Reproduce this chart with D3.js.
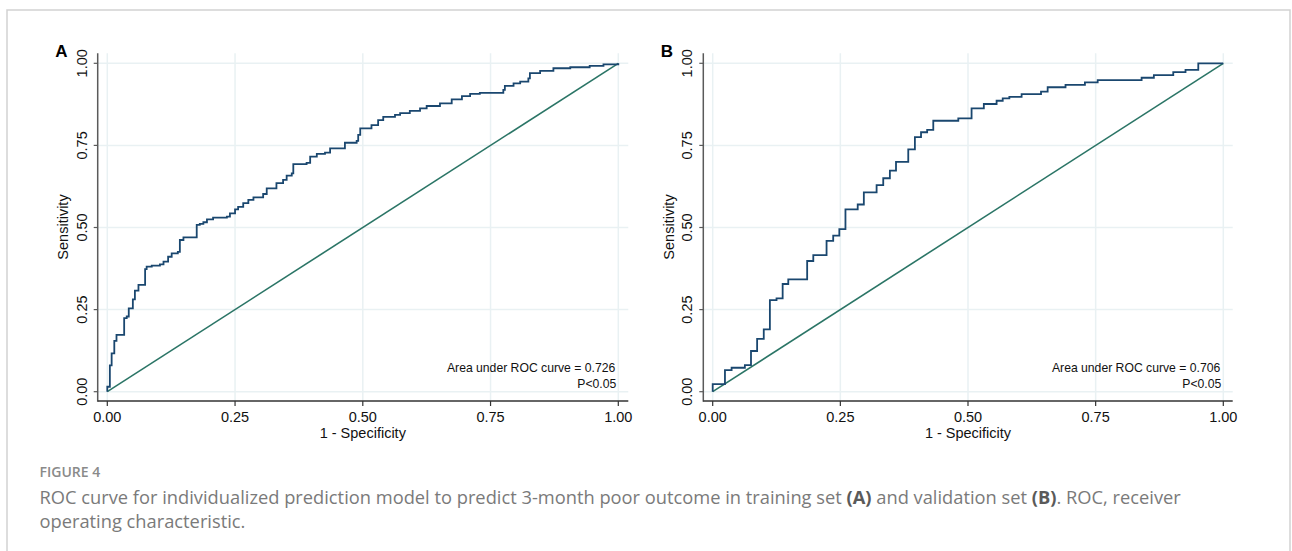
<!DOCTYPE html>
<html>
<head>
<meta charset="utf-8">
<script src="https://cdn.jsdelivr.net/npm/d3@7"></script>
<style>
  body { margin: 0; background: #fff; }
  svg { display: block; }
</style>
</head>
<body>
<div id="chart"></div>
<script>
// training set ROC points (1 - specificity, sensitivity)
const fprA = [0, 0, 0.005, 0.0085, 0.0137, 0.018, 0.033, 0.038, 0.042, 0.050, 0.054, 0.061, 0.074, 0.077, 0.087, 0.103, 0.110, 0.119, 0.126, 0.138, 0.142, 0.149, 0.175, 0.181, 0.188, 0.195, 0.207, 0.234, 0.240, 0.250, 0.256, 0.266, 0.276, 0.286, 0.305, 0.312, 0.331, 0.344, 0.351, 0.361, 0.364, 0.390, 0.397, 0.410, 0.426, 0.436, 0.465, 0.488, 0.491, 0.495, 0.517, 0.530, 0.540, 0.563, 0.573, 0.592, 0.612, 0.625, 0.651, 0.674, 0.694, 0.710, 0.729, 0.775, 0.778, 0.795, 0.808, 0.824, 0.827, 0.847, 0.873, 0.906, 0.944, 0.971, 1.0];
const tprA = [0, 0.015, 0.080, 0.117, 0.155, 0.173, 0.224, 0.229, 0.254, 0.281, 0.308, 0.325, 0.373, 0.381, 0.384, 0.388, 0.396, 0.411, 0.421, 0.426, 0.462, 0.470, 0.508, 0.511, 0.516, 0.525, 0.530, 0.533, 0.543, 0.555, 0.563, 0.574, 0.584, 0.592, 0.602, 0.619, 0.635, 0.645, 0.658, 0.665, 0.693, 0.697, 0.716, 0.724, 0.728, 0.741, 0.758, 0.764, 0.782, 0.802, 0.812, 0.827, 0.837, 0.843, 0.848, 0.855, 0.863, 0.870, 0.878, 0.890, 0.900, 0.907, 0.910, 0.919, 0.931, 0.939, 0.944, 0.954, 0.970, 0.977, 0.985, 0.988, 0.992, 0.997, 1.0];

// validation set
const fprB = [0, 0, 0.024, 0.037, 0.063, 0.075, 0.087, 0.100, 0.112, 0.125, 0.137, 0.148, 0.185, 0.197, 0.223, 0.236, 0.248, 0.260, 0.284, 0.296, 0.321, 0.334, 0.347, 0.359, 0.383, 0.396, 0.408, 0.420, 0.432, 0.481, 0.507, 0.531, 0.556, 0.568, 0.581, 0.605, 0.643, 0.656, 0.691, 0.729, 0.754, 0.840, 0.864, 0.902, 0.926, 0.951, 1.0];
const tprB = [0, 0.023, 0.066, 0.073, 0.081, 0.124, 0.161, 0.190, 0.279, 0.284, 0.328, 0.342, 0.398, 0.416, 0.459, 0.475, 0.495, 0.555, 0.570, 0.607, 0.629, 0.650, 0.673, 0.700, 0.738, 0.775, 0.790, 0.797, 0.825, 0.832, 0.863, 0.876, 0.886, 0.893, 0.898, 0.906, 0.914, 0.927, 0.934, 0.942, 0.949, 0.956, 0.964, 0.973, 0.980, 1.0, 1.0];

const TICKS = [0, 0.25, 0.5, 0.75, 1];
const PANELS = ["A", "B"];
const AUC = ["0.726", "0.706"];

const W = 1292, H = 551;
const navy = "#1a476f", teal = "#2b7566", grid = "#e9f1f3", axisCol = "#5a5a5a";

const svg = d3.select("#chart").append("svg")
  .attr("width", W)
  .attr("height", H);

// outer frame
svg.append("path")
  .attr("d", "M7,560 L7,10 L1290,10 L1290,560")
  .attr("fill", "none")
  .attr("stroke", "#d2d2d2")
  .attr("stroke-width", 1.5);

var y = d3.scaleLinear().domain([0, 1]).range([391.7, 63.3]);

var panelX = [[107.3, 618.3], [712.7, 1223.3]];
var axisLeftX = [97.7, 703.3];
var axisRight = [628.3, 1232.7];
var data = [
  fprA.map((d, i) => [d, tprA[i]]),
  fprB.map((d, i) => [d, tprB[i]])
];

PANELS.forEach(function (p, k) {
  var x = d3.scaleLinear().domain([0, 1]).range(panelX[k]);
  var g = svg.append("g");
  var x0 = axisLeftX[k], yBot = 401, yTop = 53.3;

  // gridlines
  g.selectAll("line.hg").data(TICKS).enter().append("line")
    .attr("x1", x0).attr("x2", axisRight[k])
    .attr("y1", d => y(d)).attr("y2", d => y(d))
    .attr("stroke", grid).attr("stroke-width", 1.5);
  g.selectAll("line.vg").data(TICKS).enter().append("line")
    .attr("x1", d => x(d)).attr("x2", d => x(d))
    .attr("y1", yTop).attr("y2", yBot)
    .attr("stroke", grid).attr("stroke-width", 1.5);

  // axes
  g.append("line").attr("x1", x0).attr("x2", x0).attr("y1", yTop).attr("y2", yBot + 0.75)
    .attr("stroke", axisCol).attr("stroke-width", 1.5);
  g.append("line").attr("x1", x0).attr("x2", axisRight[k]).attr("y1", yBot).attr("y2", yBot)
    .attr("stroke", "#333").attr("stroke-width", 1.5);

  g.selectAll("line.yt").data(TICKS).enter().append("line")
    .attr("x1", x0 - 4).attr("x2", x0)
    .attr("y1", d => y(d)).attr("y2", d => y(d))
    .attr("stroke", axisCol).attr("stroke-width", 1.2);
  g.selectAll("line.xt").data(TICKS).enter().append("line")
    .attr("x1", d => x(d)).attr("x2", d => x(d))
    .attr("y1", yBot).attr("y2", yBot + 5)
    .attr("stroke", "#333").attr("stroke-width", 1.2);

  g.selectAll("text.yl").data(TICKS).enter().append("text")
    .attr("transform", d => "translate(" + (x0 - 11) + "," + y(d) + ") rotate(-90)")
    .attr("text-anchor", "middle")
    .style("font-family", "'Liberation Sans', Arial, sans-serif")
    .style("font-size", "14.5px")
    .attr("fill", "#111")
    .text(d => d3.format(".2f")(d));
  g.selectAll("text.xl").data(TICKS).enter().append("text")
    .attr("x", d => x(d)).attr("y", 421.7)
    .attr("text-anchor", "middle")
    .style("font-family", "'Liberation Sans', Arial, sans-serif")
    .style("font-size", "14.5px")
    .attr("fill", "#111")
    .text(d => d3.format(".2f")(d));

  g.append("text")
    .attr("x", x(0.5)).attr("y", 438.3)
    .attr("text-anchor", "middle")
    .style("font-family", "'Liberation Sans', Arial, sans-serif")
    .style("font-size", "14.5px")
    .attr("fill", "#111")
    .text("1 - Specificity");
  g.append("text")
    .attr("transform", "translate(" + (x0 - 29.5) + ",227) rotate(-90)")
    .attr("text-anchor", "middle")
    .style("font-family", "'Liberation Sans', Arial, sans-serif")
    .style("font-size", "14.5px")
    .attr("fill", "#111")
    .text("Sensitivity");

  // panel letter
  g.append("text")
    .attr("x", x0 - 42.5).attr("y", 57.3)
    .style("font-family", "'Liberation Sans', Arial, sans-serif")
    .style("font-size", "17px")
    .style("font-weight", "bold")
    .attr("fill", "#000")
    .text(p);

  // reference line
  g.append("line")
    .attr("x1", x(0)).attr("y1", y(0)).attr("x2", x(1)).attr("y2", y(1))
    .attr("stroke", teal).attr("stroke-width", 1.6);

  // ROC step curve
  var line = d3.line()
    .x(d => x(d[0]))
    .y(d => y(d[1]))
    .curve(d3.curveStepAfter);
  g.append("path")
    .datum(data[k])
    .attr("d", line)
    .attr("fill", "none")
    .attr("stroke", navy)
    .attr("stroke-width", 1.8)
    .attr("stroke-linejoin", "miter");

  g.append("text")
    .attr("x", x(1) - 3).attr("y", 372)
    .attr("text-anchor", "end")
    .style("font-family", "'Liberation Sans', Arial, sans-serif")
    .style("font-size", "12.2px")
    .attr("fill", "#111")
    .text("Area under ROC curve = " + AUC[k]);
  g.append("text")
    .attr("x", x(1) - 2).attr("y", 388.2)
    .attr("text-anchor", "end")
    .style("font-family", "'Liberation Sans', Arial, sans-serif")
    .style("font-size", "12.2px")
    .attr("fill", "#111")
    .text("P<0.05");
});

// caption
svg.append("text")
  .attr("x", 39.5).attr("y", 477)
  .style("font-family", "'Open Sans', sans-serif")
  .style("font-size", "14px")
  .style("font-weight", "600")
  .attr("fill", "#8a8a8a")
  .text("FIGURE 4");

var cap1 = svg.append("text")
  .attr("x", 39.5).attr("y", 504)
  .style("font-family", "'Open Sans', sans-serif")
  .style("font-size", "18.3px")
  .attr("fill", "#7a7a7a");
cap1.append("tspan").text("ROC curve for individualized prediction model to predict 3-month poor outcome in training set ");
cap1.append("tspan").style("font-weight", "bold").attr("fill", "#5a5a5a").text("(A)");
cap1.append("tspan").text(" and validation set ");
cap1.append("tspan").style("font-weight", "bold").attr("fill", "#5a5a5a").text("(B)");
cap1.append("tspan").text(". ROC, receiver");

svg.append("text")
  .attr("x", 39.5).attr("y", 528)
  .style("font-family", "'Open Sans', sans-serif")
  .style("font-size", "18.3px")
  .attr("fill", "#7a7a7a")
  .text("operating characteristic.");
</script>
</body>
</html>
